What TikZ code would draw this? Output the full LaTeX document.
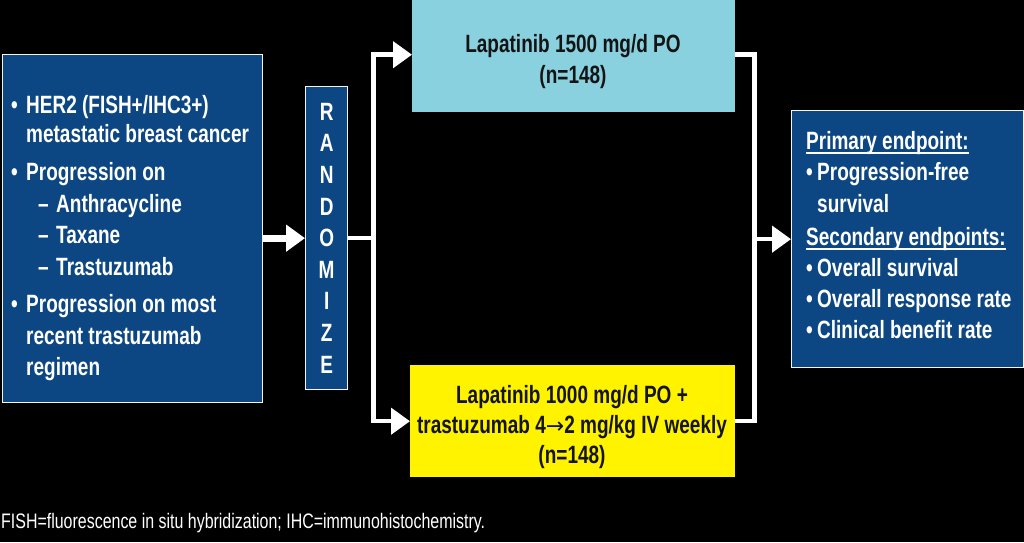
\documentclass[tikz,border=0pt]{standalone}
\usepackage{fontspec}
\setmainfont{Liberation Sans}[FakeStretch=0.76]
\newfontfamily\arrowfont{DejaVu Sans}
\usetikzlibrary{arrows.meta}
\definecolor{navybox}{RGB}{13,71,131}
\definecolor{cyanbox}{RGB}{138,209,224}
\definecolor{yellowbox}{RGB}{255,243,0}
\definecolor{darktext}{RGB}{20,20,20}
\begin{document}
\begin{tikzpicture}[x=1pt,y=-1pt,
  box/.style={inner sep=0pt, anchor=north west},
  navyframe/.style={fill=navybox, draw=white!92!gray, line width=1.3pt},
  txt/.style={font=\fontsize{25}{31.6}\selectfont\bfseries, text=white, inner sep=0pt, anchor=base west},
  dtxt/.style={font=\fontsize{25}{31}\selectfont\bfseries, text=darktext, inner sep=0pt, anchor=base},
  conn/.style={draw=white, line width=4.5pt, line join=miter},
  tip/.style={-{Triangle[width=26pt,length=19pt]}},
  uline/.style={draw=white, line width=1.6pt}]
\fill[black] (0,0) rectangle (1024,542);
\useasboundingbox (0,0) rectangle (1024,542);

% boxes
\node[box, navyframe, minimum width=260pt, minimum height=348pt] (elig) at (2,54) {};
\node[box, navyframe, minimum width=42pt, minimum height=303pt, align=center,
      font=\fontsize{25}{31.6}\selectfont\bfseries, text=white] (rand) at (305,86)
      {R\\A\\N\\D\\O\\M\\I\\Z\\E};
\node[box, fill=cyanbox, minimum width=323pt, minimum height=115pt] (arm1) at (412,-3) {};
\node[box, fill=yellowbox, minimum width=325pt, minimum height=112pt] (arm2) at (410,365) {};
\node[box, navyframe, minimum width=232pt, minimum height=257pt] (endp) at (791,110) {};

% connectors
\draw[conn, line width=7pt, tip] (elig.east |- rand.west) -- (rand.west);
\coordinate (split) at ([xshift=25pt]rand.east);
\draw[conn, tip] (rand.east) -- (split) |- (arm1.west);
\draw[conn, tip] (split) |- (arm2.west);
\coordinate (merge) at ([xshift=19pt]arm1.east |- endp.west);
\draw[conn] (arm1.east) -| (merge) |- (arm2.east);
\draw[conn, tip] (merge) -- (endp.west);

% left box text
\node[txt] (b1) at (11,113) {•};
\node[txt] (l1) at (26,113) {HER2 (FISH+/IHC3+)};
\node[txt] (l2) at (26,142) {metastatic breast cancer};
\node[txt] (b2) at (11,180) {•};
\node[txt] (l3) at (26,180) {Progression on};
\node[txt] (d1) at (38,212) {–};
\node[txt] (l4) at (56,212) {Anthracycline};
\node[txt] (d2) at (38,243) {–};
\node[txt] (l5) at (56,243) {Taxane};
\node[txt] (d3) at (38,275) {–};
\node[txt] (l6) at (56,275) {Trastuzumab};
\node[txt] (b3) at (11,312) {•};
\node[txt] (l7) at (26,312) {Progression on most};
\node[txt] (l8) at (26,344) {recent trastuzumab};
\node[txt] (l9) at (26,375) {regimen};

% arm texts
\node[dtxt] (a1l1) at (573,52) {Lapatinib 1500 mg/d PO};
\node[dtxt] (a1l2) at (573,83) {(n=148)};
\node[dtxt] (a2l1) at (572,403) {Lapatinib 1000 mg/d PO +};
\node[dtxt] (a2l2) at (572,433) {trastuzumab 4{\arrowfont\mdseries\fontsize{22}{22}\selectfont →}2 mg/kg IV weekly};
\node[dtxt] (a2l3) at (572,463) {(n=148)};

% endpoints text
\node[txt] (p0) at (806,149) {Primary endpoint:};
\draw[uline] ([yshift=-4pt]p0.base west) -- ([yshift=-4pt]p0.base east);
\node[txt] (pb1) at (806,180) {•};
\node[txt] (p1) at (817,180) {Progression-free};
\node[txt] (p2) at (817,212) {survival};
\node[txt] (s0) at (806,245) {Secondary endpoints:};
\draw[uline] ([yshift=-4pt]s0.base west) -- ([yshift=-4pt]s0.base east);
\node[txt] (sb1) at (806,276) {•};
\node[txt] (s1) at (817,276) {Overall survival};
\node[txt] (sb2) at (806,307) {•};
\node[txt] (s2) at (817,307) {Overall response rate};
\node[txt] (sb3) at (806,338) {•};
\node[txt] (s3) at (817,338) {Clinical benefit rate};

% footnote
\node[font=\fontsize{21}{23}\selectfont, text=white, inner sep=0pt, anchor=base west] (fn)
  at (1,528) {FISH=fluorescence in situ hybridization; IHC=immunohistochemistry.};
\end{tikzpicture}
\end{document}
